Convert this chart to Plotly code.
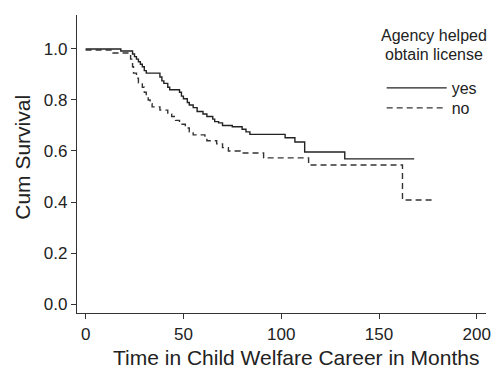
import plotly.graph_objects as go

# Kaplan-Meier style step data (months, cumulative survival)
yes_t = [0, 18, 24, 25, 26, 27, 28, 29, 30, 31, 38, 39, 40, 42, 43, 48, 49, 50, 52, 53,
         55, 57, 60, 62, 65, 66, 68, 70, 75, 80, 82, 84, 102, 107, 112, 132.5, 168]
yes_s = [1.0, 0.992, 0.98, 0.97, 0.96, 0.95, 0.94, 0.93, 0.915, 0.905, 0.89, 0.875, 0.865,
         0.85, 0.84, 0.83, 0.815, 0.805, 0.79, 0.78, 0.77, 0.755, 0.745, 0.735, 0.725, 0.715,
         0.71, 0.70, 0.695, 0.685, 0.675, 0.665, 0.652, 0.635, 0.596, 0.569, 0.569]

no_t = [0, 14, 23, 24, 24.5, 26, 27, 29, 30, 31, 32, 33, 34, 38, 42, 44, 46, 48, 51, 53,
        55, 61, 62, 67, 70, 73, 79, 91, 114, 162, 178.5]
no_s = [0.996, 0.984, 0.96, 0.93, 0.905, 0.885, 0.867, 0.85, 0.83, 0.815, 0.80, 0.785,
        0.773, 0.76, 0.745, 0.735, 0.72, 0.705, 0.69, 0.675, 0.663, 0.652, 0.64, 0.628,
        0.613, 0.60, 0.592, 0.573, 0.545, 0.408, 0.408]

x_ticks = [0, 50, 100, 150, 200]
y_ticks = [0.0, 0.2, 0.4, 0.6, 0.8, 1.0]

FONT = "Liberation Sans, Arial, Helvetica, sans-serif"
INK = "#222222"

fig = go.Figure()
fig.add_trace(go.Scatter(x=yes_t, y=yes_s, mode="lines", name="yes", legend="legend",
                         line=dict(color=INK, width=1.4, shape="hv")))
fig.add_trace(go.Scatter(x=no_t, y=no_s, mode="lines", name="no", legend="legend2",
                         line=dict(color="#333333", width=1.4, shape="hv", dash="6px,4px")))

leg_common = dict(xanchor="left", yanchor="middle", bgcolor="rgba(0,0,0,0)",
                  font=dict(size=16, family=FONT, color=INK), itemwidth=60)

fig.update_layout(
    width=499, height=370,
    margin=dict(l=77, r=8, t=15, b=57),
    paper_bgcolor="white", plot_bgcolor="white",
    font=dict(family=FONT, color=INK, size=16),
    showlegend=True,
    legend=dict(x=0.745, y=0.755, **leg_common),
    legend2=dict(x=0.745, y=0.688, **leg_common),
    xaxis=dict(
        range=[-4.4, 204.7], tickvals=x_ticks, ticks="outside", ticklen=5,
        tickwidth=1.2, tickcolor="#333", showline=True, linecolor="#333", linewidth=1.3,
        showgrid=False, zeroline=False, tickfont=dict(size=17),
    ),
    yaxis=dict(
        range=[-0.035, 1.133], tickvals=y_ticks, tickformat=".1f", ticks="outside",
        ticklen=5, tickwidth=1.2, tickcolor="#333", showline=True, linecolor="#333",
        linewidth=1.3, showgrid=False, zeroline=False, tickfont=dict(size=17),
    ),
    annotations=[
        dict(text="Time in Child Welfare Career in Months", xref="paper", yref="paper",
             x=0.536, y=-0.148, xanchor="center", yanchor="middle", showarrow=False,
             font=dict(size=21, family=FONT, color=INK)),
        dict(text="Cum Survival", xref="paper", yref="paper", textangle=-90,
             x=-0.133, y=0.523, xanchor="center", yanchor="middle", showarrow=False,
             font=dict(size=21, family=FONT, color=INK)),
        dict(text="Agency helped", xref="paper", yref="paper",
             x=0.872, y=0.931, xanchor="center", yanchor="middle", showarrow=False,
             font=dict(size=16, family=FONT, color=INK)),
        dict(text="obtain license", xref="paper", yref="paper",
             x=0.872, y=0.869, xanchor="center", yanchor="middle", showarrow=False,
             font=dict(size=16, family=FONT, color=INK)),
    ],
)

fig.write_html("out.html")
